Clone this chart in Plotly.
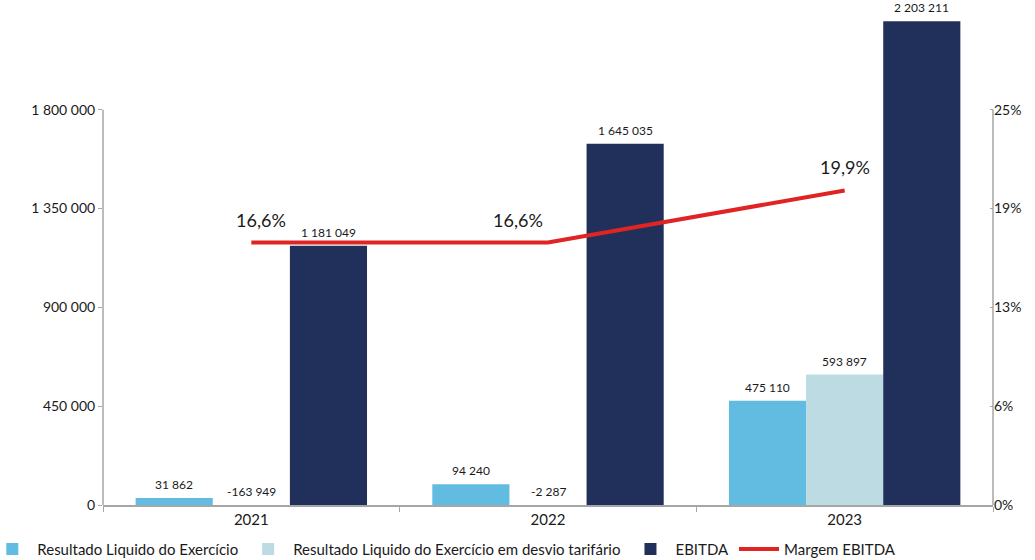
import plotly.graph_objects as go

years = ["2021", "2022", "2023"]
resultado = [31862, 94240, 475110]
resultado_desvio = [-163949, -2287, 593897]
ebitda = [1181049, 1645035, 2203211]
margem = [0.166, 0.166, 0.199]

left_ticks = [0, 450000, 900000, 1350000, 1800000]
left_ticktext = ["0", "450 000", "900 000", "1 350 000", "1 800 000"]
right_ticks = [0, 0.0625, 0.125, 0.1875, 0.25]
right_ticktext = ["0%", "6%", "13%", "19%", "25%"]

names = ["Resultado Liquido do Exercício",
         "Resultado Liquido do Exercício em desvio tarifário",
         "EBITDA", "Margem EBITDA"]
colors = ["#62bce2", "#bcdbe2", "#21305a", "#e02424"]

FONT = "Lato"
YMAX = 2300000
AXIS_GRAY = "#a6a6a6"

def fmt(v):
    return f"{v:,}".replace(",", " ")

fig = go.Figure()
series = [resultado, resultado_desvio, ebitda]
for i, s in enumerate(series):
    fig.add_trace(go.Bar(x=years, y=s, name=names[i], marker_color=colors[i],
                         marker_line_width=0, offsetgroup=str(i)))

fig.add_trace(go.Scatter(x=years, y=margem, name=names[3], yaxis="y2",
                         mode="lines", line=dict(color=colors[3], width=4)))

# bar value labels (category index positions)
BARGAP = 0.22
bar_w = (1 - BARGAP) / 3
for i, s in enumerate(series):
    off = (i - 1) * bar_w
    for k, v in enumerate(s):
        fig.add_annotation(x=k + off, y=max(v, 0), xref="x", yref="y", text=fmt(v),
                           showarrow=False, yanchor="bottom", yshift=4,
                           font=dict(family=FONT, size=12, color="#1a1a1a"))

# line labels
line_shifts = [10, -30, 0]
for k, (v, sh) in enumerate(zip(margem, line_shifts)):
    fig.add_annotation(x=k, y=v, xref="x", yref="y2",
                       text=f"{v*100:.1f}%".replace(".", ","), showarrow=False,
                       yanchor="bottom", xshift=sh, yshift=10,
                       font=dict(family=FONT, size=18, color="#1a1a1a"))

# axis lines only up to the top tick
fig.add_shape(type="line", xref="paper", yref="y", x0=0, x1=0, y0=0, y1=left_ticks[-1],
              line=dict(color=AXIS_GRAY, width=1.5))
fig.add_shape(type="line", xref="paper", yref="y", x0=1, x1=1, y0=0, y1=left_ticks[-1],
              line=dict(color=AXIS_GRAY, width=1.5))

fig.update_layout(
    width=1035, height=560,
    margin=dict(l=103, r=42, t=0, b=55, autoexpand=False),
    paper_bgcolor="white", plot_bgcolor="white",
    barmode="group", bargap=BARGAP, bargroupgap=0,
    font=dict(family=FONT, size=14, color="#1a1a1a"),
    showlegend=True,
    legend=dict(orientation="h", x=-0.13, xanchor="left", y=-0.055, yanchor="top",
                font=dict(family=FONT, size=15, color="#1a1a1a"),
                itemwidth=40, traceorder="normal"),
    xaxis=dict(type="category", range=[-0.5, 2.5], showline=True,
               linecolor=AXIS_GRAY, linewidth=1.5,
               ticks="outside", tickson="boundaries", ticklen=5, tickcolor=AXIS_GRAY,
               tickfont=dict(family=FONT, size=15, color="#1a1a1a"), showgrid=False),
    yaxis=dict(range=[0, YMAX], tickvals=left_ticks, ticktext=left_ticktext,
               showgrid=False, zeroline=False, showline=False,
               ticks="outside", ticklen=4, tickcolor=AXIS_GRAY,
               tickfont=dict(family=FONT, size=14, color="#1a1a1a")),
    yaxis2=dict(range=[0, 0.25 * YMAX / left_ticks[-1]], overlaying="y", side="right",
                tickvals=right_ticks, ticktext=right_ticktext,
                showgrid=False, zeroline=False, showline=False,
                ticks="inside", ticklen=3, tickcolor=AXIS_GRAY,
                tickfont=dict(family=FONT, size=14, color="#1a1a1a")),
)

fig.write_html("out.html")
